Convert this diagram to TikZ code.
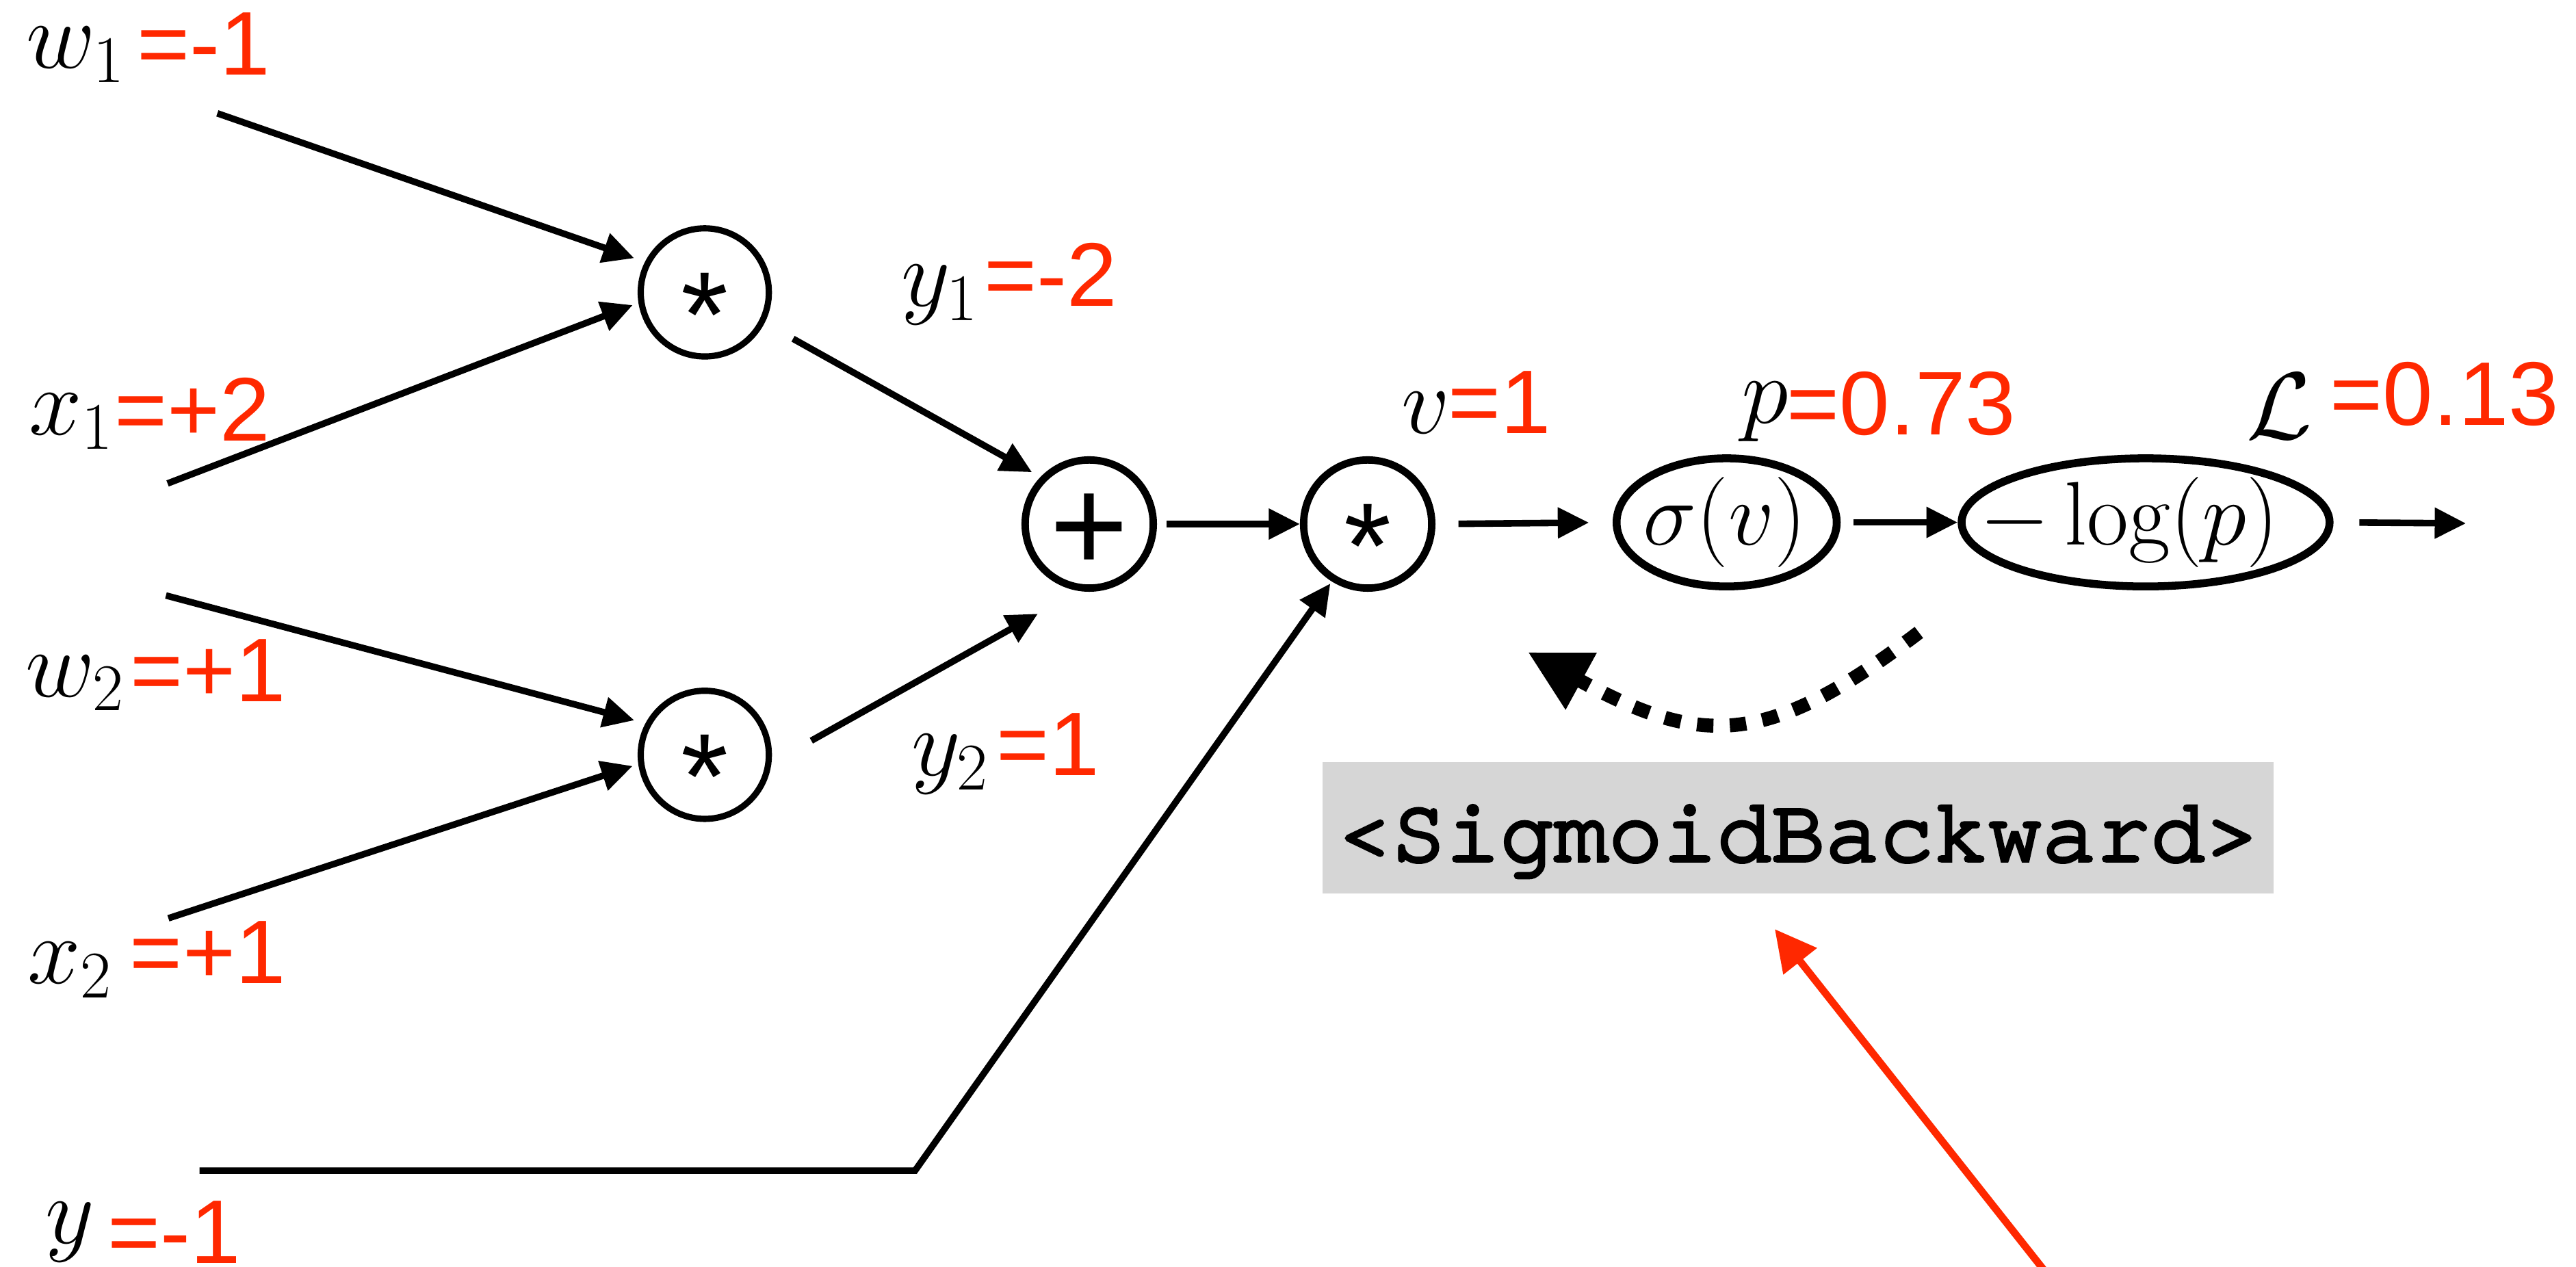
\documentclass[tikz,border=0pt]{standalone}
\usepackage{fix-cm}
\usepackage{fontspec}
\usetikzlibrary{arrows.meta,shapes.geometric}
\newfontfamily\hv{Liberation Sans}
\newfontfamily\cour{TeX Gyre Cursor}[FakeBold=4]
\definecolor{rd}{RGB}{255,40,0}
\definecolor{boxgray}{RGB}{214,214,214}
\newcommand\val[1]{{\hv\fontsize{55}{60}\selectfont\color{rd}#1}}
\begin{document}
\begin{tikzpicture}[x=1pt,y=-1pt,
  op/.style={circle,draw,line width=4pt,minimum size=78pt,inner sep=0pt},
  ell/.style={ellipse,draw,line width=4.8pt,inner sep=0pt,minimum height=78pt},
  arr/.style={line width=4pt,-{Triangle[length=19pt,width=18pt]}},
  lbl/.style={anchor=base west,inner sep=0pt,font=\fontsize{58}{60}\selectfont},
  mth/.style={inner sep=0pt,font=\fontsize{55}{60}\selectfont}]
\useasboundingbox (0,0) rectangle (1568,771);
% operation nodes
\node[op,line width=3.8pt,font=\hv\fontsize{74}{80}\selectfont] (m1) at (429,178) {\raisebox{-39pt}[0pt][0pt]{*}};
\node[op,line width=3.8pt,font=\hv\fontsize{74}{80}\selectfont] (m2) at (429,459.5) {\raisebox{-39pt}[0pt][0pt]{*}};
\node[op,line width=4.5pt,font=\hv\fontsize{82}{90}\selectfont] (pl) at (663,319) {\raisebox{-28.8pt}[0pt][0pt]{+}};
\node[op,line width=4.5pt,font=\hv\fontsize{74}{80}\selectfont] (m3) at (832.5,319) {\raisebox{-39pt}[0pt][0pt]{*}};
\node[ell,minimum width=134pt] (sg) at (1051,318) {};
\node[mth] (sgt) at (1050,318) {$\sigma(v)$};
\node[ell,minimum width=224pt] (lg) at (1306,318) {};
\node[mth] (lgt) at (1296,318) {$-\log(p)$};
% gray box
\node[fill=boxgray,minimum width=579pt,minimum height=80pt,inner sep=0pt,outer sep=0pt] (gb) at (1094.5,504) {};
\node[anchor=base,inner sep=0pt,font=\cour\fontsize{55}{60}\selectfont] (gbt) at (1094.5,524) {<SigmoidBackward>};
% free ends
\coordinate (w1s) at (132.3,69);
\coordinate (x1s) at (102,294.3);
\coordinate (w2s) at (101,362.5);
\coordinate (x2s) at (102.5,559);
\coordinate (ys) at (121.5,712.6);
\coordinate (yk) at (557,712.6);
\coordinate (out) at (1501,318.6);
\coordinate (bs) at (1168,385);
\coordinate (be) at (930,397);
\coordinate (rs) at (1250.3,781);
% connectors
\draw[arr,shorten >=6.9pt] (w1s) -- (m1.153);
\draw[arr,shorten >=3.7pt] (x1s) -- (m1.189);
\draw[arr,shorten >=7pt] (w2s) -- (m2.152);
\draw[arr,shorten >=3.6pt] (x2s) -- (m2.188);
\draw[arr,shorten <=19.8pt,shorten >=5.9pt] (m1.333) -- (pl.136);
\draw[arr,shorten <=27.8pt,shorten >=28.4pt] (m2.353) -- (pl.261);
\draw[arr,shorten >=1.5pt] (ys) -- (yk) -- (m3.238);
\draw[arr,shorten <=6pt] (pl.east) -- (m3.west);
\draw[arr,shorten <=14pt,shorten >=14.4pt] (m3.east) -- (sg.west);
\draw[arr,shorten <=8pt] (sg.east) -- (lg.west);
\draw[arr,shorten <=15.7pt] (lg.east) -- (out);
\draw[line width=8.5pt,dash pattern=on 10pt off 10pt,-{Triangle[length=37pt,width=37pt]}] (bs) .. controls (1076,455) and (1036,455) .. (be);
\draw[draw=rd,line width=4.5pt,-{Triangle[length=25pt,width=25pt]},shorten >=27.5pt] (rs) -- (gb.232);
% labels
\node[lbl] (lw1) at (16,41.4) {$w_1$\hspace{7.5pt}\raisebox{-4pt}{\val{=-1}}};
\node[lbl] (lx1) at (17.5,264.5) {$x_1$\hspace{0.7pt}\raisebox{-4pt}{\val{=+2}}};
\node[lbl] (lw2) at (15.5,424) {$w_2$\hspace{3.8pt}\raisebox{-3pt}{\val{=+1}}};
\node[lbl] (lx2) at (16.5,598.7) {$x_2$\hspace{11pt}\val{=+1}};
\node[lbl] (ly) at (27.7,756.8) {$y$\hspace{8pt}\raisebox{-12pt}{\val{=-1}}};
\node[lbl] (ly1) at (548.4,186.5) {$y_1$\hspace{3.7pt}\val{=-2}};
\node[lbl] (ly2) at (554.6,472) {$y_2$\hspace{5pt}\val{=1}};
\node[lbl] (lv) at (853,264) {$v$\hspace{-1.5pt}\val{=1}};
\node[lbl] (lp) at (1060,257.7) {$p$\hspace{-1pt}\raisebox{-7pt}{\val{=0.73}}};
\node[lbl] (lL) at (1367.2,267) {$\mathcal{L}$\hspace{11pt}\raisebox{8pt}{\val{=0.13}}};
\end{tikzpicture}
\end{document}
